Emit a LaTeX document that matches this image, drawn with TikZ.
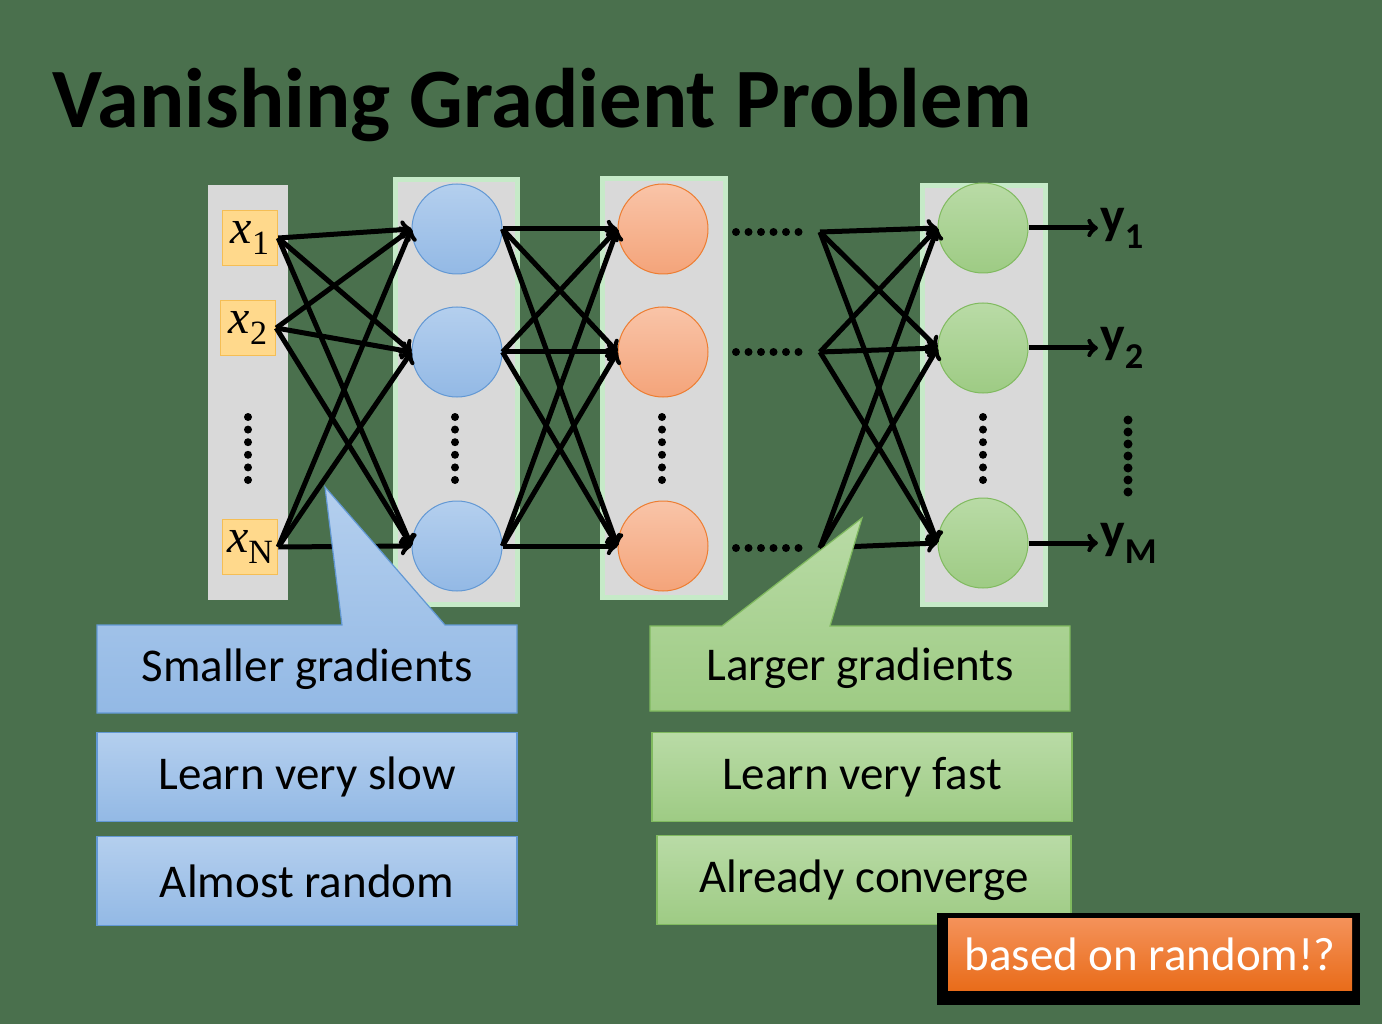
\documentclass[tikz,border=0pt]{standalone}
\usepackage{fontspec}
\setmainfont{Carlito}
\newfontfamily\timesfont{Liberation Serif}
\definecolor{slide}{RGB}{74,112,77}
\definecolor{colgray}{RGB}{217,217,217}
\definecolor{colrim}{RGB}{198,234,200}
\definecolor{bluetop}{RGB}{180,207,238}
\definecolor{bluebot}{RGB}{147,185,229}
\definecolor{bluerim}{RGB}{98,152,212}
\definecolor{orangetop}{RGB}{249,196,168}
\definecolor{orangebot}{RGB}{244,164,122}
\definecolor{orangerim}{RGB}{237,125,49}
\definecolor{greentop}{RGB}{185,219,166}
\definecolor{greenbot}{RGB}{158,203,132}
\definecolor{greenrim}{RGB}{128,186,95}
\definecolor{inputfill}{RGB}{255,217,140}
\definecolor{inputrim}{RGB}{245,190,85}
\definecolor{warntop}{RGB}{244,146,90}
\definecolor{warnbot}{RGB}{233,108,26}
\newcommand{\invar}[1]{{\fontsize{48}{48}\selectfont\timesfont\itshape x}{\fontsize{34}{34}\selectfont\timesfont\raisebox{-11pt}{#1}}}
\begin{document}
\begin{tikzpicture}[x=1pt,y=-1pt,
    layer/.style={fill=colgray, draw=colrim, line width=5pt},
    neuron/.style={circle, minimum size=90pt, inner sep=0pt, line width=1pt},
    hidden/.style={neuron, draw=bluerim, top color=bluetop, bottom color=bluebot},
    middle/.style={neuron, draw=orangerim, top color=orangetop, bottom color=orangebot},
    output/.style={neuron, draw=greenrim, top color=greentop, bottom color=greenbot},
    inbox/.style={fill=inputfill, draw=inputrim, line width=1.5pt, minimum size=55pt, inner sep=0pt},
    link/.style={->, line width=5pt},
    more/.style={line width=8pt, line cap=round, dash pattern=on 0pt off 12.5pt},
    slowfill/.style={draw=bluerim, top color=bluetop, bottom color=bluebot, line width=1.2pt},
    fastfill/.style={draw=greenrim, top color=greentop, bottom color=greenbot, line width=1.2pt},
    note/.style={minimum width=420pt, minimum height=89pt, inner sep=0pt, font=\fontsize{47}{47}\selectfont},
    slow/.style={note, slowfill},
    fast/.style={note, fastfill},
    outlabel/.style={anchor=west, inner sep=2pt, font=\fontsize{52}{52}\selectfont\bfseries}
  ]
\fill[slide] (0,0) rectangle (1382,1024);
\node[anchor=base west, inner sep=0pt, font=\fontsize{84.5}{84.5}\selectfont\bfseries] (title) at (52,128) {Vanishing Gradient Problem};

% columns
\fill[colgray] (208,185) rectangle (288,600);
\draw[layer] (395.5,179.5) rectangle (517.5,604.5);
\draw[layer] (602.5,178.5) rectangle (725.5,597.5);
\draw[layer] (922.5,185.5) rectangle (1045.5,604.5);

% inputs
\node[inbox] (x1) at (250,238) {\invar{1}};
\node[inbox] (x2) at (248,328) {\invar{2}};
\node[inbox] (xN) at (250,547) {\invar{N}};

% neurons
\foreach \y [count=\i] in {229,352,546} {
    \node[hidden] (a\i) at (457,\y) {};
    \node[middle] (b\i) at (663,\y) {};
  }
\foreach \y [count=\i] in {228,348,543} {
    \node[output] (c\i) at (983,\y) {};
  }

% vertical dots
\foreach \cx in {248,455,662,983} {
    \foreach \k in {0,...,5} {
        \fill (\cx,{417+12.6*\k}) circle (4);
      }
  }
\foreach \k in {0,...,6} {
    \fill (1128,{420+12*\k}) circle (4.5);
  }

% links
\foreach \s in {x1,x2,xN} {
    \foreach \t in {1,2,3} {
        \draw[link] (\s.east) -- (a\t.west);
      }
  }
\foreach \s in {1,2,3} {
    \foreach \t in {1,2,3} {
        \draw[link] (a\s.east) -- (b\t.west);
      }
  }
\foreach \y [count=\i] in {232,352,548} {
    \coordinate (d\i) at (736,\y);
    \coordinate (e\i) at (806,\y);
    \coordinate (f\i) at (820,\y);
    \draw[more] (d\i) -- (e\i);
  }
\foreach \s in {1,2,3} {
    \foreach \t in {1,2,3} {
        \draw[link] (f\s) -- (c\t.west);
      }
  }

% outputs
\foreach \n [count=\i] in {1,2,M} {
    \node[outlabel] (y\i) at (1098,{\i==1 ? 228 : (\i==2 ? 348 : 543)}) {y\textsubscript{\n}};
    \draw[link] (c\i.east) -- (y\i.west);
  }

% notes
\draw[slowfill] (97,625) -- (342,625) -- (325,487) -- (445,625) -- (517,625) -- (517,713) -- (97,713) -- cycle;
\node[font=\fontsize{47}{47}\selectfont] (smaller) at (307,669) {Smaller gradients};
\node[slow] (slowlearn) at (307,777) {Learn very slow};
\node[slow] (almost) at (307,881) {Almost random};

\draw[fastfill] (650,626) -- (722,626) -- (862,518) -- (830,626) -- (1070,626) -- (1070,711) -- (650,711) -- cycle;
\node[font=\fontsize{47}{47}\selectfont] (larger) at (860,668) {Larger gradients};
\node[fast] (fastlearn) at (862,777) {Learn very fast};
\node[fast, minimum width=414pt] (converge) at (864,880) {Already converge};

\fill[black] (937,913) rectangle (1360,1005);
\node[note, minimum width=404pt, minimum height=72pt, top color=warntop, bottom color=warnbot, text=white] (random) at (1150,954) {based on random!?};
\end{tikzpicture}
\end{document}
